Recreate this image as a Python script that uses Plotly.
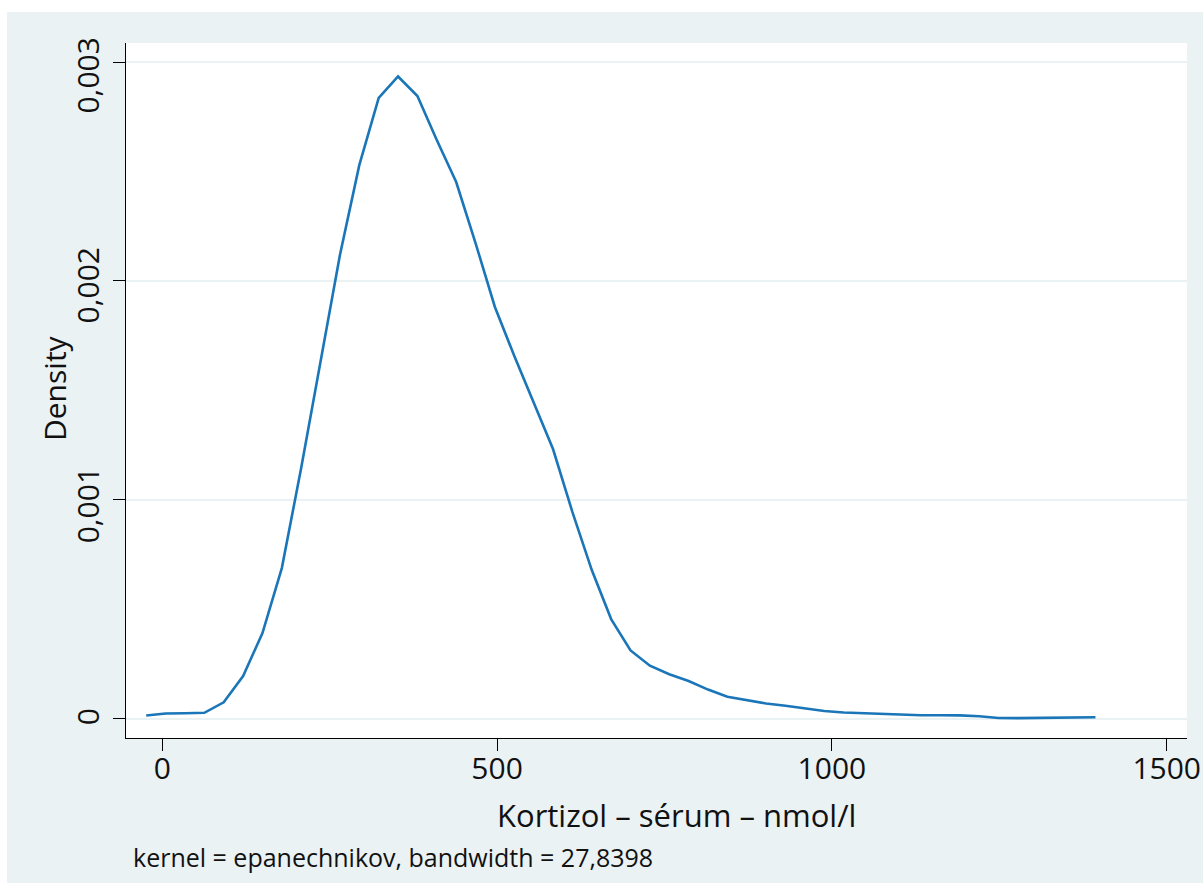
import plotly.graph_objects as go

# Kernel density estimate of serum cortisol (50 evaluation points)
kortizol = [-24.0, 4.9, 33.9, 62.8, 91.7, 120.7, 149.6, 178.5, 207.4, 236.4,
            265.3, 294.2, 323.2, 352.1, 381.0, 409.9, 438.9, 467.8, 496.7, 525.7,
            554.6, 583.5, 612.5, 641.4, 670.3, 699.3, 728.2, 757.1, 786.0, 815.0,
            843.9, 872.8, 901.8, 930.7, 959.6, 988.6, 1017.5, 1046.4, 1075.3, 1104.3,
            1133.2, 1162.1, 1191.1, 1220.0, 1248.9, 1277.9, 1306.8, 1335.7, 1364.6, 1393.6]
density = [0.0000146, 0.0000238, 0.0000247, 0.0000270, 0.0000749, 0.000195, 0.000391,
           0.000688, 0.001145, 0.001630, 0.002118, 0.002529, 0.002836, 0.002934,
           0.002845, 0.002644, 0.002452, 0.002173, 0.001881, 0.001657, 0.001447,
           0.001232, 0.000944, 0.000679, 0.000455, 0.000312, 0.000242, 0.000203,
           0.000172, 0.000133, 0.000100, 0.0000845, 0.0000694, 0.0000594, 0.0000457,
           0.0000352, 0.0000283, 0.0000247, 0.0000228, 0.0000183, 0.0000155,
           0.0000155, 0.0000151, 0.0000110, 0.0000032, 0.0000027, 0.0000032,
           0.0000059, 0.0000069, 0.0000064]

x_ticks = [0, 500, 1000, 1500]
x_ticklabels = ["0", "500", "1000", "1500"]
y_ticks = [0, 0.001, 0.002, 0.003]
y_ticklabels = ["0", "0,001", "0,002", "0,003"]

x_title = "Kortizol – sérum – nmol/l"
y_title = "Density"
note = "kernel = epanechnikov, bandwidth = 27,8398"

BG = "#EAF2F3"
FONT = "Open Sans"
TEXT = "#111111"

fig = go.Figure()
fig.add_trace(go.Scatter(
    x=kortizol, y=density, mode="lines",
    line=dict(color="#1a76b8", width=2.6),
    hoverinfo="skip", showlegend=False,
))

W, H = 1203, 883
L, R, T, B = 126, 16, 43, 145
pw, ph = W - L - R, H - T - B


def px_x(p):
    return (p - L) / pw


def px_y(p):
    return (H - B - p) / ph


# rotated y tick labels, nudged down the way the original graph places them
y_label_shift = [2, -6, -5, -14]
annotations = [
    dict(text=lab, xref="paper", yref="y", x=px_x(87.5), y=val, yshift=s,
         xanchor="center", yanchor="middle", textangle=-90, showarrow=False,
         font=dict(size=30, family=FONT, color=TEXT))
    for lab, val, s in zip(y_ticklabels, y_ticks, y_label_shift)
]
annotations += [
    dict(text=x_title, xref="paper", yref="paper",
         x=px_x(676.5), y=px_y(815), xanchor="center", yanchor="middle",
         showarrow=False, font=dict(size=31, family=FONT, color=TEXT)),
    dict(text=y_title, xref="paper", yref="paper",
         x=px_x(54), y=px_y(388), xanchor="center", yanchor="middle",
         textangle=-90,
         showarrow=False, font=dict(size=30, family=FONT, color=TEXT)),
    dict(text=note, xref="paper", yref="paper",
         x=px_x(131), y=px_y(857), xanchor="left", yanchor="middle",
         showarrow=False, font=dict(size=25, family=FONT, color=TEXT)),
]

fig.update_layout(
    width=W, height=H,
    margin=dict(l=L, r=R, t=T, b=B, pad=0),
    paper_bgcolor=BG,
    plot_bgcolor="white",
    font=dict(family=FONT, color=TEXT, size=30),
    showlegend=False,
    xaxis=dict(
        range=[-54.2, 1530.3],
        tickvals=x_ticks, ticktext=x_ticklabels,
        showgrid=False, zeroline=False,
        showline=True, linecolor="black", linewidth=1.4,
        ticks="outside", ticklen=12, tickwidth=1.4, tickcolor="black",
        ticklabelstandoff=-8,
        tickfont=dict(size=30, family=FONT, color=TEXT),
        automargin=False,
        fixedrange=True,
    ),
    yaxis=dict(
        range=[-0.0000882, 0.003087],
        tickvals=y_ticks, showticklabels=False,
        showgrid=True, gridcolor=BG, gridwidth=2.2,
        zeroline=False,
        showline=True, linecolor="black", linewidth=1.4,
        ticks="outside", ticklen=12, tickwidth=1.4, tickcolor="black",
        automargin=False,
        fixedrange=True,
    ),
    shapes=[
        # white strips along the top and left page edges
        dict(type="rect", xref="paper", yref="paper",
             x0=-0.2, x1=1.1, y0=px_y(12), y1=px_y(-20),
             fillcolor="white", line=dict(width=0), layer="below"),
        dict(type="rect", xref="paper", yref="paper",
             x0=px_x(-20), x1=px_x(7), y0=px_y(900), y1=px_y(-20),
             fillcolor="white", line=dict(width=0), layer="below"),
    ],
    annotations=annotations,
)

fig.write_html("out.html", config={"displayModeBar": False})
